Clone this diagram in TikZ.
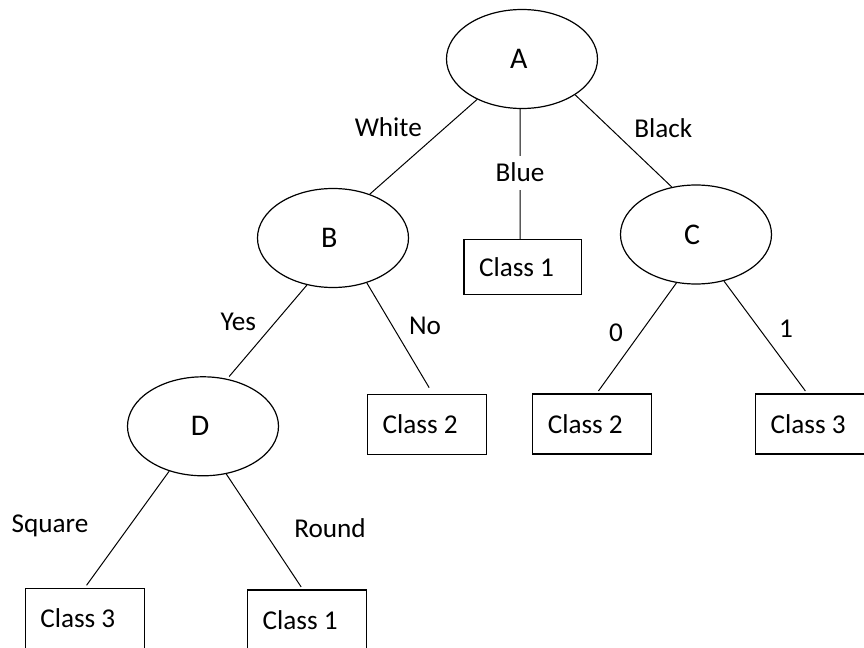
\documentclass[tikz,border=0pt]{standalone}
\usepackage{fontspec}
\setmainfont{Carlito}
\usetikzlibrary{shapes.geometric}
\tikzset{decision/.style={draw,ellipse,line width=0.6pt,
        minimum width=75.5pt,minimum height=49.5pt,inner sep=0pt,
        text width=12pt,align=flush left,font=\fontsize{15pt}{18pt}\selectfont},
    leaf/.style={draw,rectangle,line width=0.6pt,minimum width=59.5pt,
        minimum height=30pt,text width=44.5pt,align=flush left,
        inner xsep=7.5pt,inner ysep=0pt},
    branch label/.style={inner sep=1pt,text height=8.8pt,text depth=0pt},
    branch/.style={line width=0.5pt},
    low branch/.style={branch,shorten >=1.5pt}}

\begin{document}
\begin{tikzpicture}[x=0.5pt,y=-0.5pt,font=\fontsize{13.6pt}{16pt}\selectfont]
    \useasboundingbox (0,0) rectangle (864,648);
    \clip (0,0) rectangle (864,648);
    % decision nodes
    \node[decision] (A) at (522,59) {A};
    \node[decision] (B) at (333,238) {B};
    \node[decision] (C) at (696,234.5) {C};
    \node[decision] (D) at (203,426.3) {D};
    % leaves
    \node[leaf,minimum width=58.65pt,text width=43.65pt,minimum height=27.3pt]
        (blue1) at (522.7,267) {Class 1};
    \node[leaf] (yes2) at (427.2,424.2) {Class 2};
    \node[leaf] (zero2) at (592.3,424) {Class 2};
    \node[leaf] (one3) at (815.2,424) {Class 3};
    \node[leaf] (square3) at (84.8,618.3) {Class 3};
    \node[leaf] (round1) at (307.2,620) {Class 1};
    % branch labels
    \node[branch label] (lWhite) at (388.3,127.7) {White};
    \node[branch label,inner ysep=4pt] (lBlue) at (520,173) {Blue};
    \node[branch label] (lBlack) at (663.3,128.3) {Black};
    \node[branch label] (lYes) at (238.3,321.7) {Yes};
    \node[branch label] (lNo) at (425,325.7) {No};
    \node[branch label] (l0) at (616,332.7) {0};
    \node[branch label] (l1) at (786,328.3) {1};
    \node[branch label] (lSquare) at (50,523.3) {Square};
    \node[branch label] (lRound) at (330,528.3) {Round};
    % branches
    \draw[branch] (A.222) -- (B.50);
    \draw[branch] ([xshift=-1pt]A.south) -- (lBlue) -- ([xshift=-1.35pt]blue1.north);
    \draw[branch] (A.326) -- (C.117);
    \draw[low branch] (B.241) -- (D.63);
    \draw[branch,shorten >=3.5pt] (B.307) -- ([xshift=2.75pt]yes2.north);
    \draw[low branch] (C.248) -- ([xshift=2.2pt]zero2.north);
    \draw[low branch] (C.301) -- ([xshift=-4pt]one3.north);
    \draw[low branch] (D.233) -- (square3.north);
    \draw[low branch] (D.296) -- ([xshift=-2.2pt]round1.north);
\end{tikzpicture}
\end{document}
